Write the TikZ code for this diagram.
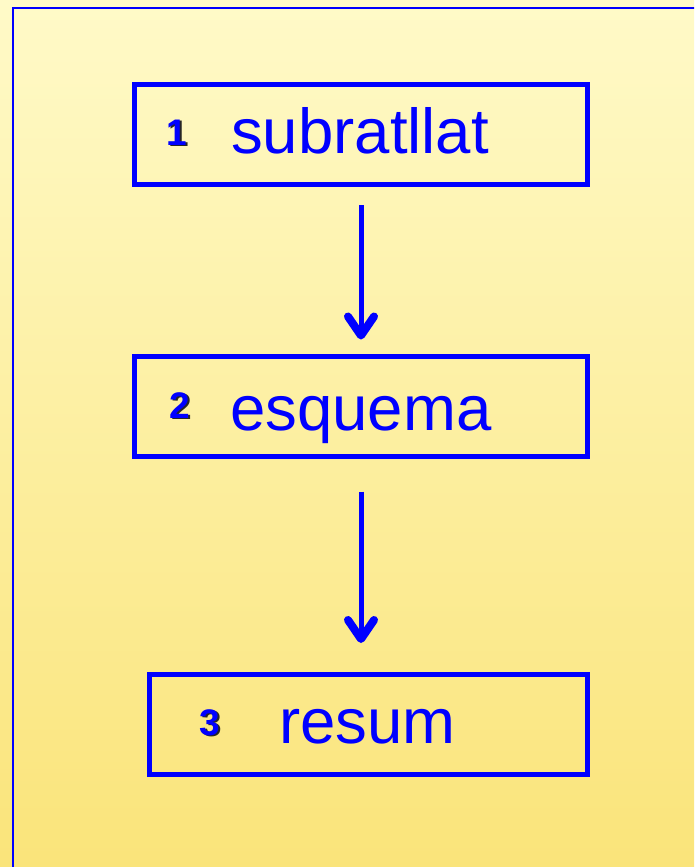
\documentclass[tikz,border=0pt]{standalone}
\usepackage{fontspec}
\setmainfont{Liberation Sans}
\usetikzlibrary{arrows.meta}
\definecolor{pblue}{RGB}{0,0,255}
\definecolor{bgtop}{RGB}{255,250,200}
\definecolor{bgbot}{RGB}{250,228,122}
\newcommand{\shadownum}[1]{\makebox[0pt][l]{\hspace{1.8pt}\raisebox{-1.8pt}{\textcolor{black!85}{#1}}}\textcolor{pblue}{#1}}
\tikzset{
  stepbox/.style={draw=pblue, line width=5pt, rectangle, inner sep=0pt, minimum height=100pt},
  word/.style={text=pblue, inner sep=0pt, anchor=base west, font=\fontsize{63.5}{70}\selectfont},
  num/.style={inner sep=0pt, anchor=base, font=\fontsize{37}{40}\selectfont\bfseries},
  arr/.style={draw=pblue, line width=5pt, -{Straight Barb[length=19pt,width=26pt,line width=0pt 1.6,round]}}
}
\begin{document}
\begin{tikzpicture}[x=1pt,y=-1pt]
\useasboundingbox (0,0) rectangle (694,867);
\fill[top color=bgtop, bottom color=bgbot] (0,0) rectangle (694,867);
\begin{scope}
  \clip (0,0) rectangle (694,867);
  \draw[pblue, line width=2pt] (13,8) rectangle (720,900);
\end{scope}
% boxes
\node[stepbox, minimum width=453pt] (b1) at (361,134.75) {};
\node[stepbox, minimum width=453pt] (b2) at (361,406) {};
\node[stepbox, minimum width=438pt] (b3) at (368.5,724.5) {};
% words
\node[word] (w1) at (231,153) {subratllat};
\node[word] (w2) at (230,430) {esquema};
\node[word] (w3) at (279,743) {resum};
% numbers
\node[num] (n1) at (177,145) {\shadownum{1}};
\node[num] (n2) at (180,418) {\shadownum{2}};
\node[num] (n3) at (210,735) {\shadownum{3}};
% arrows
\draw[arr, shorten <=18pt, shorten >=14pt] (b1.south) -- (b2.north);
\coordinate (a2end) at (b2.south |- b3.north);
\draw[arr, shorten <=33pt, shorten >=29pt] (b2.south) -- (a2end);
\end{tikzpicture}
\end{document}
